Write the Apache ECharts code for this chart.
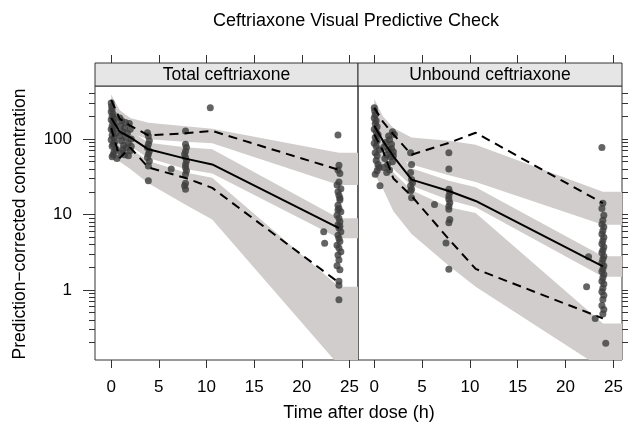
<!DOCTYPE html>
<html>
<head>
    <meta charset="UTF-8">
    <title>Ceftriaxone Visual Predictive Check</title>
    <script src="https://cdn.jsdelivr.net/npm/echarts@6.0.0/dist/echarts.min.js"></script>
    <style>
        html, body { margin: 0; padding: 0; background: #fff; }
        #main { width: 628px; height: 427px; }
    </style>
</head>
<body>
<div id="main"></div>
<script type="text/javascript">

    // bin midpoints (h) and the end of the shaded bands
    var binTime = [0, 0.9, 2.0, 3.9, 7.8, 10.6, 23.9];
    var bandEndTime = 26;

    // Total ceftriaxone: observed percentiles
    var totalMedian = [190, 125, 105, 73, 55, 46, 6.6];
    var totalP95 = [330, 185, 150, 112, 119, 128, 39];
    var totalP05 = [140, 56, 77, 42, 30.5, 22.5, 1.25];
    // Total ceftriaxone: simulated confidence bands
    var totalP95Lo = [200, 140, 120, 99, 92, 88, 24.6];
    var totalP95Hi = [390, 240, 190, 164, 148, 137, 66];
    var totalMedLo = [130, 85, 80, 56, 40, 35, 4.85];
    var totalMedHi = [250, 165, 130, 89, 78, 73, 8.9];
    var totalP05Lo = [60, 50, 40, 26, 13.5, 8.6, 0.1];
    var totalP05Hi = [200, 95, 75, 51, 36, 30.7, 1.1];

    // Unbound ceftriaxone: observed percentiles
    var unbMedian = [150, 95, 59, 29, 20.5, 15.1, 2.05];
    var unbP95 = [260, 170, 115, 62, 89, 121, 14.1];
    var unbP05 = [115, 70, 30, 17.6, 4.7, 1.9, 0.42];
    // Unbound ceftriaxone: simulated confidence bands
    var unbP95Lo = [130, 85, 62, 46, 33, 27, 7.3];
    var unbP95Hi = [340, 200, 140, 105, 95, 84, 20];
    var unbMedLo = [100, 60, 40, 24, 15.5, 12.5, 1.5];
    var unbMedHi = [230, 130, 78, 41, 28, 23, 2.8];
    var unbP05Lo = [34, 22, 11, 5.5, 2.1, 1.1, 0.09];
    var unbP05Hi = [150, 70, 36, 21, 12.5, 10.5, 0.36];

    // observations [time, prediction-corrected concentration]
    var totalObs = [
        [0.0, 300], [0.05, 270], [0.1, 250], [0.0, 230], [0.2, 215], [0.1, 200], [0.3, 190], [0.0, 180],
        [0.2, 170], [0.4, 160], [0.1, 150], [0.3, 145], [0.0, 135], [0.2, 128], [0.5, 120], [0.1, 112],
        [0.3, 105], [0.0, 98], [0.4, 92], [0.2, 86], [0.1, 80], [0.5, 74], [0.3, 68], [0.2, 62], [0.1, 58], [0.6, 55],
        [0.9, 190], [1.1, 175], [1.5, 165], [1.9, 160], [1.0, 150], [1.4, 140], [2.0, 135], [1.2, 125],
        [1.7, 118], [0.9, 110], [1.5, 105], [2.1, 100], [1.1, 95], [1.8, 88], [1.3, 82], [1.6, 76],
        [2.0, 70], [1.0, 66], [1.4, 62], [1.8, 60], [1.2, 72], [2.1, 80],
        [3.8, 121], [3.9, 110], [4.0, 95], [3.9, 85], [3.8, 77], [4.0, 69], [3.9, 63], [3.8, 57],
        [4.0, 51], [3.9, 44], [3.9, 28],
        [6.3, 40], [10.4, 260],
        [7.8, 128], [7.8, 85], [7.9, 77], [7.8, 69], [7.7, 63], [7.8, 57], [7.9, 51], [7.8, 46],
        [7.8, 42], [7.9, 38], [7.8, 34], [7.8, 26], [7.7, 24], [7.8, 21.6],
        [22.3, 5.9], [22.4, 4.15], [23.8, 113], [23.9, 45], [23.8, 39], [24.0, 35], [23.9, 27], [23.7, 24.6],
        [24.1, 22], [23.8, 20], [23.9, 18], [24.0, 16.5], [24.0, 15.5], [23.8, 13.3], [23.9, 12], [23.8, 11.5],
        [24.1, 10.9], [23.7, 9.8], [23.9, 8.9], [24.0, 8], [23.8, 7.3], [24.0, 7.0], [23.9, 6.6], [24.1, 5.9],
        [23.8, 5.3], [23.9, 4.8], [24.0, 4.4], [23.7, 3.9], [23.9, 3.6], [24.1, 3.2], [23.8, 2.9], [23.9, 2.5],
        [23.7, 2.1], [24.0, 1.85], [23.9, 1.3], [23.9, 1.15], [23.9, 0.74]
    ];
    var unbObs = [
        [0.0, 260], [0.05, 235], [0.1, 210], [0.0, 190], [0.2, 175], [0.1, 160], [0.3, 145], [0.0, 135],
        [0.2, 125], [0.4, 115], [0.1, 105], [0.3, 95], [0.0, 88], [0.2, 80], [0.5, 72], [0.1, 66],
        [0.3, 60], [0.2, 52], [0.4, 46], [0.5, 42], [0.3, 38], [0.1, 34], [0.6, 24],
        [1.5, 110], [1.6, 98], [1.2, 90], [1.8, 85], [1.0, 78], [1.5, 72], [2.0, 68], [1.3, 62],
        [1.7, 58], [1.1, 55], [1.9, 50], [1.4, 46], [1.0, 42], [1.6, 39], [1.3, 36], [2.0, 60],
        [1.8, 75], [1.9, 125], [2.1, 115],
        [3.8, 66], [3.9, 46], [3.8, 36], [3.9, 29], [4.0, 26.4], [3.8, 24], [3.9, 21.6], [3.8, 20.5], [3.9, 16.7],
        [6.3, 13.6],
        [7.8, 66], [7.8, 40], [7.8, 21.6], [7.9, 19.5], [7.8, 17.6], [7.8, 15.9], [7.9, 14.3], [7.8, 12.9],
        [7.8, 11.7], [7.9, 8.6], [7.8, 7.8], [7.5, 4.2], [7.8, 1.88],
        [22.4, 2.76], [22.2, 1.1], [23.1, 0.42], [23.8, 77], [23.9, 14.1], [23.8, 12], [24.0, 9.8], [23.9, 8.4],
        [23.8, 7.4], [24.0, 6.8], [23.9, 6.1], [23.8, 5.5], [24.0, 5.0], [23.9, 4.5], [23.8, 4.1], [24.0, 3.7],
        [23.9, 3.35], [23.8, 3.1], [24.0, 2.8], [23.9, 2.55], [23.8, 2.3], [24.0, 2.1], [23.9, 1.9], [23.8, 1.75],
        [24.0, 1.6], [23.9, 1.45], [23.8, 1.3], [24.0, 1.2], [23.9, 1.05], [23.8, 0.95], [24.0, 0.85], [23.9, 0.75],
        [23.8, 0.62], [24.0, 0.55], [23.9, 0.48], [24.2, 0.197]
    ];

    var xTicks = [0, 5, 10, 15, 20, 25];
    var yMajor = [1, 10, 100];
    var yMinor = [0.2, 0.3, 0.4, 0.5, 0.6, 0.7, 0.8, 0.9,
        2, 3, 4, 5, 6, 7, 8, 9, 20, 30, 40, 50, 60, 70, 80, 90, 200, 300, 400];

    var bandColor = '#d1cdcc';
    var pointColor = '#3d3d3d';
    var axisColor = '#333';
    var font = 'Liberation Sans, Arial, sans-serif';

    var chartDom = document.getElementById('main');
    var myChart = echarts.init(chartDom, null, {renderer: 'canvas'});

    function zip(a, b) {
        return a.map(function (v, i) { return [v, b[i]]; });
    }

    function bandSeries(g, lo, hi) {
        var t = binTime.concat([bandEndTime]);
        var l = lo.concat([lo[lo.length - 1]]);
        var h = hi.concat([hi[hi.length - 1]]);
        var data = t.map(function (v, i) { return [v, l[i], h[i]]; });
        return {
            type: 'custom',
            xAxisIndex: g * 2,
            yAxisIndex: g * 2,
            data: data,
            clip: true,
            silent: true,
            z: 1,
            renderItem: function (params, api) {
                if (params.dataIndex !== 0) return null;
                var pts = [];
                for (var i = 0; i < data.length; i++) pts.push(api.coord([data[i][0], data[i][1]]));
                for (var j = data.length - 1; j >= 0; j--) pts.push(api.coord([data[j][0], data[j][2]]));
                return {type: 'polygon', shape: {points: pts}, style: {fill: bandColor}};
            }
        };
    }

    function lineSeries(g, vals, dashed) {
        return {
            type: 'line',
            xAxisIndex: g * 2,
            yAxisIndex: g * 2,
            data: zip(binTime, vals),
            showSymbol: false,
            silent: true,
            z: 4,
            lineStyle: {color: '#000', width: 2, type: dashed ? [9, 6] : 'solid'}
        };
    }

    function scatterSeries(g, obs) {
        return {
            type: 'scatter',
            xAxisIndex: g * 2,
            yAxisIndex: g * 2,
            data: obs,
            symbolSize: 7,
            silent: true,
            z: 3,
            itemStyle: {color: pointColor}
        };
    }

    function xAxes(g) {
        return [{
            type: 'value', gridIndex: g, min: -1.7, max: 25.9, position: 'bottom',
            axisLine: {show: false, onZero: false}, splitLine: {show: false},
            axisTick: {show: true, length: 8, customValues: xTicks, lineStyle: {color: axisColor}},
            axisLabel: {show: true, customValues: xTicks, margin: 19, fontSize: 17, fontFamily: font, color: '#000'}
        }, {
            type: 'value', gridIndex: g, min: -1.7, max: 25.9, position: 'top', offset: 23,
            axisLine: {show: false, onZero: false}, splitLine: {show: false},
            axisTick: {show: true, length: 8, customValues: xTicks, lineStyle: {color: axisColor}},
            axisLabel: {show: false}
        }];
    }

    function yAxes(g) {
        var pos = g === 0 ? 'left' : 'right';
        return [{
            type: 'log', gridIndex: g, min: 0.118, max: 504, position: pos, offset: 0,
            axisLine: {show: false, onZero: false}, splitLine: {show: false},
            axisTick: {show: true, length: 12, customValues: yMajor, lineStyle: {color: axisColor}},
            axisLabel: {show: g === 0, customValues: yMajor, margin: 23, fontSize: 17, fontFamily: font, color: '#000'}
        }, {
            type: 'log', gridIndex: g, min: 0.118, max: 504, position: pos, offset: 0,
            axisLine: {show: false, onZero: false}, splitLine: {show: false},
            axisTick: {show: true, length: 6, customValues: yMinor, lineStyle: {color: axisColor}},
            axisLabel: {show: false}
        }];
    }

    var option = {
        animation: false,
        backgroundColor: '#fff',
        grid: [
            {left: 95, top: 86, width: 263, height: 274, show: true, borderColor: axisColor, borderWidth: 1, backgroundColor: 'transparent'},
            {left: 358, top: 86, width: 264, height: 274, show: true, borderColor: axisColor, borderWidth: 1, backgroundColor: 'transparent'}
        ],
        xAxis: xAxes(0).concat(xAxes(1)),
        yAxis: yAxes(0).concat(yAxes(1)),
        graphic: [
            {type: 'rect', shape: {x: 95, y: 63, width: 263, height: 23}, style: {fill: '#e6e6e6', stroke: axisColor, lineWidth: 1}},
            {type: 'rect', shape: {x: 358, y: 63, width: 264, height: 23}, style: {fill: '#e6e6e6', stroke: axisColor, lineWidth: 1}},
            {type: 'text', x: 226.5, y: 75, style: {text: 'Total ceftriaxone', font: '17.5px ' + font, fill: '#000', align: 'center', verticalAlign: 'middle'}},
            {type: 'text', x: 490, y: 75, style: {text: 'Unbound ceftriaxone', font: '17.5px ' + font, fill: '#000', align: 'center', verticalAlign: 'middle'}},
            {type: 'text', x: 356, y: 21, style: {text: 'Ceftriaxone Visual Predictive Check', font: '18px ' + font, fill: '#000', align: 'center', verticalAlign: 'middle'}},
            {type: 'text', x: 359, y: 413, style: {text: 'Time after dose (h)', font: '18px ' + font, fill: '#000', align: 'center', verticalAlign: 'middle'}},
            {type: 'text', x: 20, y: 224, rotation: Math.PI / 2, style: {text: 'Prediction\u2212corrected concentration', font: '17.5px ' + font, fill: '#000', align: 'center', verticalAlign: 'middle'}}
        ],
        series: [
            bandSeries(0, totalP95Lo, totalP95Hi),
            bandSeries(0, totalMedLo, totalMedHi),
            bandSeries(0, totalP05Lo, totalP05Hi),
            scatterSeries(0, totalObs),
            lineSeries(0, totalMedian, false),
            lineSeries(0, totalP95, true),
            lineSeries(0, totalP05, true),
            bandSeries(1, unbP95Lo, unbP95Hi),
            bandSeries(1, unbMedLo, unbMedHi),
            bandSeries(1, unbP05Lo, unbP05Hi),
            scatterSeries(1, unbObs),
            lineSeries(1, unbMedian, false),
            lineSeries(1, unbP95, true),
            lineSeries(1, unbP05, true)
        ]
    };

    option && myChart.setOption(option);
</script>
</body>
</html>
